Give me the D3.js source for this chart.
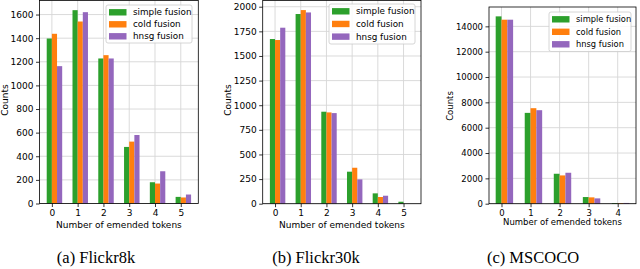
<!DOCTYPE html>
<html><head><meta charset="utf-8">
<script src="https://cdn.jsdelivr.net/npm/d3@7"></script>
<style>body{margin:0;background:#fff}svg{display:block}</style></head>
<body>
<svg id="c" width="640" height="269"></svg>
<script>
const seriesNames = ["simple fusion", "cold fusion", "hnsg fusion"];
const seriesColors = ["#2ca02c", "#ff7f0e", "#9467bd"];

const flickr8kCats = [0, 1, 2, 3, 4, 5];
const flickr8kSimple = [1397, 1637, 1228, 479, 180, 56];
const flickr8kCold = [1437, 1541, 1256, 524, 169, 51];
const flickr8kHnsg = [1163, 1620, 1228, 580, 273, 76];
const flickr8kTicks = [0, 200, 400, 600, 800, 1000, 1200, 1400, 1600];

const flickr30kCats = [0, 1, 2, 3, 4, 5];
const flickr30kSimple = [1672, 1926, 934, 325, 105, 20];
const flickr30kCold = [1662, 1966, 927, 365, 68, 0];
const flickr30kHnsg = [1787, 1942, 920, 247, 81, 0];
const flickr30kTicks = [0, 250, 500, 750, 1000, 1250, 1500, 1750, 2000];

const mscocoCats = [0, 1, 2, 3, 4];
const mscocoSimple = [14788, 7170, 2364, 525, 50];
const mscocoCold = [14525, 7539, 2233, 500, 50];
const mscocoHnsg = [14525, 7381, 2443, 420, 60];
const mscocoTicks = [0, 2000, 4000, 6000, 8000, 10000, 12000, 14000];

const captions = ["(a) Flickr8k", "(b) Flickr30k", "(c) MSCOCO"];
const xLabel = "Number of emended tokens";
const yLabel = "Counts";

const panels = [
  {cats: flickr8kCats, series: [flickr8kSimple, flickr8kCold, flickr8kHnsg], ticks: flickr8kTicks,
   left: 39.5, right: 198.3, top: 0.5, bottom: 203.5, fs: 9, ylabX: 5, ylabY: 100, xlabY: 228,
   leg: {x: 106, y: 5, w: 86, h: 38}, capX: 96},
  {cats: flickr30kCats, series: [flickr30kSimple, flickr30kCold, flickr30kHnsg], ticks: flickr30kTicks,
   left: 262.7, right: 421, top: 0.4, bottom: 203.7, fs: 9, ylabX: 228, ylabY: 100, xlabY: 228,
   leg: {x: 329, y: 4, w: 86, h: 40}, capX: 316},
  {cats: mscocoCats, series: [mscocoSimple, mscocoCold, mscocoHnsg], ticks: mscocoTicks,
   left: 489, right: 636, top: 7, bottom: 203.7, fs: 8.5, ylabX: 450, ylabY: 106, xlabY: 224.5,
   leg: {x: 549, y: 12, w: 82, h: 39.5}, capX: 533}
];

const svg = d3.select("#c");
const font = "'DejaVu Sans', sans-serif";

panels.forEach((p, pi) => {
  const last = p.cats[p.cats.length - 1];
  const lo = -0.2, hi = last + 0.4;
  const m = 0.05 * (hi - lo);
  const x = d3.scaleLinear().domain([lo - m, hi + m]).range([p.left, p.right]);
  const maxV = d3.max(p.series.flat());
  const y = d3.scaleLinear().domain([0, maxV * 1.05]).range([p.bottom, p.top]);
  const g = svg.append("g");

  // grid
  g.selectAll(".vg").data(p.cats).join("line")
    .attr("x1", d => x(d)).attr("x2", d => x(d))
    .attr("y1", p.top).attr("y2", p.bottom)
    .attr("stroke", "#d6d6d6").attr("stroke-width", 0.9);
  g.selectAll(".hg").data(p.ticks).join("line")
    .attr("x1", p.left).attr("x2", p.right)
    .attr("y1", d => y(d)).attr("y2", d => y(d))
    .attr("stroke", "#d6d6d6").attr("stroke-width", 0.9);

  // bars
  p.series.forEach((vals, k) => {
    g.selectAll(".b" + k).data(p.cats).join("rect")
      .attr("x", d => x(d - 0.2 + k * 0.2))
      .attr("width", d => x(d + k * 0.2) - x(d - 0.2 + k * 0.2))
      .attr("y", (d, i) => y(vals[i]))
      .attr("height", (d, i) => y(0) - y(vals[i]))
      .attr("fill", seriesColors[k]);
  });

  // axes
  const xa = d3.axisBottom(x).tickValues(p.cats).tickFormat(d3.format("d")).tickSizeOuter(0).tickSize(3.5).tickPadding(2.5);
  const ya = d3.axisLeft(y).tickValues(p.ticks).tickFormat(d3.format("d")).tickSizeOuter(0).tickSize(3.5).tickPadding(2.5);
  const gx = svg.append("g").attr("transform", `translate(0,${p.bottom})`).call(xa);
  const gy = svg.append("g").attr("transform", `translate(${p.left},0)`).call(ya);
  [gx, gy].forEach(a => {
    a.select(".domain").remove();
    a.selectAll("line").attr("stroke", "#000").attr("stroke-width", 0.8);
    a.selectAll("text").attr("font-family", font).attr("font-size", p.fs).attr("fill", "#000");
  });

  // frame
  svg.append("rect").attr("x", p.left).attr("y", p.top)
    .attr("width", p.right - p.left).attr("height", p.bottom - p.top)
    .attr("fill", "none").attr("stroke", "#000").attr("stroke-width", 0.8);

  // labels
  svg.append("text").attr("x", (p.left + p.right) / 2).attr("y", p.xlabY)
    .attr("text-anchor", "middle").attr("font-family", font).attr("font-size", p.fs)
    .text(xLabel);
  svg.append("text").attr("transform", `translate(${p.ylabX},${p.ylabY}) rotate(-90)`)
    .attr("text-anchor", "middle").attr("dominant-baseline", "central")
    .attr("font-family", font).attr("font-size", p.fs).text(yLabel);

  // legend
  const L = p.leg;
  const lg = svg.append("g");
  lg.append("rect").attr("x", L.x).attr("y", L.y).attr("width", L.w).attr("height", L.h)
    .attr("rx", 2).attr("fill", "#fff").attr("fill-opacity", 0.85)
    .attr("stroke", "#cccccc").attr("stroke-width", 0.8);
  const rowH = (L.h - 2) / 3;
  seriesNames.forEach((name, k) => {
    const cy = L.y + 7.3 + k * rowH;
    lg.append("rect").attr("x", L.x + 3).attr("y", cy - 3.2).attr("width", 17.5).attr("height", 6.4)
      .attr("fill", seriesColors[k]);
    lg.append("text").attr("x", L.x + 27).attr("y", cy).attr("dominant-baseline", "central")
      .attr("font-family", font).attr("font-size", p.fs - 0.2).text(name);
  });

  // caption
  svg.append("text").attr("x", p.capX).attr("y", 263).attr("text-anchor", "middle")
    .attr("font-family", "'Liberation Serif', 'DejaVu Serif', serif").attr("font-size", 16.5)
    .text(captions[pi]);
});
</script>
</body></html>
